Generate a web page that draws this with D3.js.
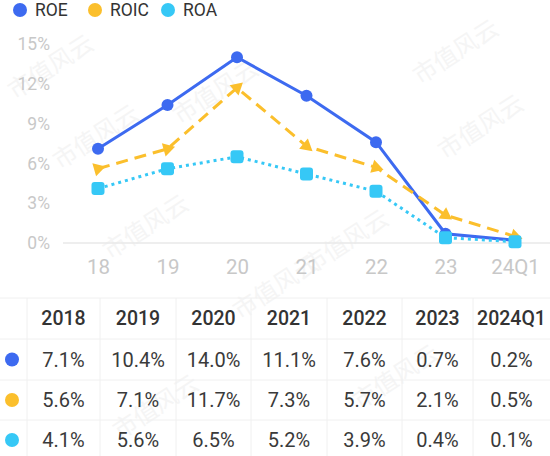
<!DOCTYPE html>
<html><head><meta charset="utf-8">
<script src="https://cdn.jsdelivr.net/npm/d3@7"></script>
<style>body{margin:0;background:#fff;}svg{display:block;font-family:Roboto,"Noto Sans",sans-serif;}</style>
</head><body><svg id="c" width="550" height="456"></svg>
<script>
const axisLabels = ["18","19","20","21","22","23","24Q1"];
const tableHeaders = ["2018","2019","2020","2021","2022","2023","2024Q1"];
const roe = [7.1,10.4,14.0,11.1,7.6,0.7,0.2];
const roic = [5.6,7.1,11.7,7.3,5.7,2.1,0.5];
const roa = [4.1,5.6,6.5,5.2,3.9,0.4,0.1];
const yTicks = [0,3,6,9,12,15];
const seriesNames = ["ROE","ROIC","ROA"];
const colors = ["#3d6af0","#fbbf2c","#36c8f6"];

const svg = d3.select("#c");

// watermarks
const wm = [[15,100],[60,170],[110,260],[420,85],[445,160],[310,275],[180,125],[240,320],[360,410],[120,440]];
svg.append("g").selectAll("text").data(wm).join("text")
  .attr("transform",d=>`translate(${d[0]},${d[1]}) rotate(-33)`)
  .attr("font-size",24).attr("fill","#f5f5f5").attr("font-family","'Noto Sans CJK SC'")
  .text("市值风云");

const x = d3.scalePoint().domain(axisLabels).range([98,515]);
const y = d3.scaleLinear().domain([0,15]).range([243,44]);

// legend
const legX = [20,95,168];
const lg = svg.append("g");
seriesNames.forEach((n,i)=>{
  lg.append("circle").attr("cx",legX[i]).attr("cy",10).attr("r",7).attr("fill",colors[i]);
  lg.append("text").attr("x",legX[i]+15).attr("y",10).attr("dy","0.35em").attr("font-size",17.5).attr("fill","#333").text(n);
});

// y axis
const ya = d3.axisLeft(y).tickValues(yTicks).tickFormat(d=>d+"%").tickSize(0).tickPadding(0);
const yg = svg.append("g").attr("transform","translate(50,0)").call(ya);
yg.select(".domain").remove();
yg.selectAll("text").attr("font-size",17.5).attr("fill","#c8c8c8").attr("font-family","Roboto");

// baseline
svg.append("line").attr("x1",63).attr("x2",550).attr("y1",y(0)).attr("y2",y(0)).attr("stroke","#e8e8e8").attr("stroke-width",1.5);

// x axis
const xa = d3.axisBottom(x).tickSize(0).tickPadding(0);
const xg = svg.append("g").attr("transform","translate(0,267)").call(xa);
xg.select(".domain").remove();
xg.selectAll("text").attr("font-size",20.5).attr("fill","#c8c8c8").attr("font-family","Roboto").attr("dy","0.35em");

const line = d3.line().x((d,i)=>x(axisLabels[i])).y(d=>y(d));
const data = [roe,roic,roa];
const dashes = [null,"12,7","3,4"];
// lines
data.forEach((s,k)=>{
  svg.append("path").datum(s).attr("d",line).attr("fill","none").attr("stroke",colors[k])
    .attr("stroke-width",3).attr("stroke-dasharray",dashes[k]);
});
// markers
svg.append("g").selectAll("circle").data(roe).join("circle")
  .attr("cx",(d,i)=>x(axisLabels[i])).attr("cy",d=>y(d)).attr("r",6).attr("fill",colors[0]);
svg.append("g").selectAll("path").data(roic).join("path")
  .attr("d",d3.symbol(d3.symbolTriangle,80))
  .attr("transform",(d,i)=>{
    const px = x(axisLabels[i]), py = y(d);
    let j = i>0? i-1 : i+1;
    let dx = px - x(axisLabels[j]), dy = py - y(roic[j]);
    if(i===0){dx=-dx;dy=-dy;}
    const ang = Math.atan2(dy,dx)*180/Math.PI + 90;
    return `translate(${px},${py}) rotate(${ang})`;
  }).attr("fill",colors[1]);
svg.append("g").selectAll("rect").data(roa).join("rect")
  .attr("x",(d,i)=>x(axisLabels[i])-6.5).attr("y",d=>y(d)-6.5).attr("width",13).attr("height",13)
  .attr("rx",3).attr("fill",colors[2]);

// table
const colB = [27,100,176,251,327,402,473,550];
const rowB = [298,339,380,420,460];
const tg = svg.append("g");
rowB.forEach(r=>tg.append("line").attr("x1",0).attr("x2",550).attr("y1",r).attr("y2",r).attr("stroke","#f0f0f0"));
colB.slice(0,-1).forEach(c=>tg.append("line").attr("x1",c).attr("x2",c).attr("y1",298).attr("y2",456).attr("stroke","#f0f0f0"));
tableHeaders.forEach((h,i)=>{
  tg.append("text").attr("x",(colB[i]+colB[i+1])/2).attr("y",(rowB[0]+rowB[1])/2).attr("dy","0.35em")
    .attr("text-anchor","middle").attr("font-size",19.5).attr("font-weight",500).attr("fill","#333").text(h);
});
data.forEach((s,k)=>{
  const cy = (rowB[k+1]+rowB[k+2])/2;
  tg.append("circle").attr("cx",12).attr("cy",cy).attr("r",7).attr("fill",colors[k]);
  s.forEach((v,i)=>{
    tg.append("text").attr("x",(colB[i]+colB[i+1])/2).attr("y",cy).attr("dy","0.35em")
      .attr("text-anchor","middle").attr("font-size",20).attr("fill","#3a3a3a").text(v.toFixed(1)+"%");
  });
});
</script></body></html>
